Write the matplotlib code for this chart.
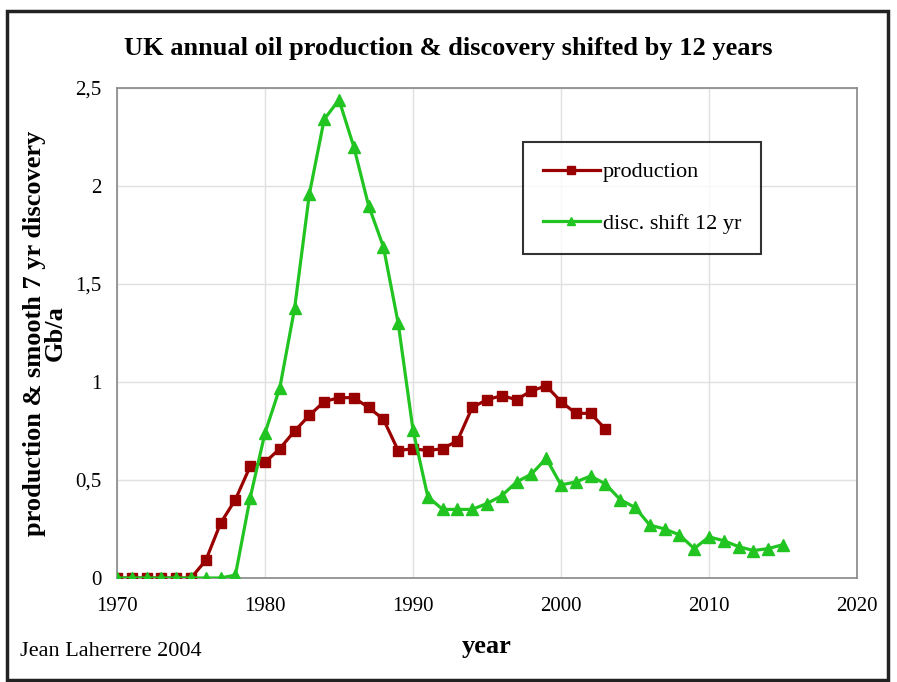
import numpy as np
import matplotlib
matplotlib.use("Agg")
import matplotlib.pyplot as plt
from matplotlib.patches import Rectangle
from matplotlib.ticker import FuncFormatter

plt.rcParams['font.family'] = ['Liberation Serif', 'DejaVu Serif']

# production Gb/a, 1970-2003
prod_years = list(range(1970, 2004))
production = [0, 0, 0, 0, 0, 0, 0.09, 0.28, 0.40, 0.57, 0.59, 0.66, 0.75, 0.83,
              0.90, 0.92, 0.92, 0.87, 0.81, 0.65, 0.66, 0.65, 0.66, 0.70, 0.87,
              0.91, 0.93, 0.91, 0.955, 0.98, 0.90, 0.84, 0.84, 0.76]

# discovery (smoothed 7 yr) shifted by 12 years, 1970-2015
disc_years = list(range(1970, 2016))
discovery = [0, 0, 0, 0, 0, 0, 0, 0, 0.015, 0.41, 0.74, 0.97, 1.376, 1.96,
             2.34, 2.44, 2.20, 1.90, 1.69, 1.30, 0.755, 0.415, 0.35, 0.35, 0.35,
             0.38, 0.42, 0.49, 0.53, 0.61, 0.475, 0.49, 0.52, 0.48, 0.40, 0.36,
             0.27, 0.25, 0.22, 0.15, 0.21, 0.19, 0.16, 0.14, 0.15, 0.17]

fig = plt.figure(figsize=(8.97, 6.82), dpi=100)
ax = fig.add_axes([117/897, 1-578/682, 740/897, 490/682])

ax.plot(prod_years, production, color='#990000', lw=2.3, marker='s', ms=7,
        label='production', zorder=3)
ax.plot(disc_years, discovery, color='#22c422', lw=2.3, marker='^', ms=8,
        label='disc. shift 12 yr', zorder=4)

ax.set_xlim(1970, 2020)
ax.set_ylim(0, 2.5)
ax.set_xticks(range(1970, 2021, 10))
ax.set_yticks([0, 0.5, 1, 1.5, 2, 2.5])
ax.yaxis.set_major_formatter(FuncFormatter(lambda v, p: ('%g' % v).replace('.', ',')))
ax.tick_params(length=0, labelsize=15, pad=14)
ax.tick_params(axis='y', pad=11)
ax.grid(True, color='#e0e0e0', lw=1)
ax.set_axisbelow(True)
for s in ax.spines.values():
    s.set_color('#888888')
    s.set_linewidth(1.2)

fig.text(0.5, 1-48/682, 'UK annual oil production & discovery shifted by 12 years',
         fontsize=19, fontweight='bold', ha='center', va='center')
ax.set_ylabel('production & smooth 7 yr discovery\nGb/a', fontsize=19,
              fontweight='bold', linespacing=0.9)
ax.yaxis.set_label_coords((67-117)/740, 0.5)
ax.set_xlabel('year', fontsize=19, fontweight='bold', labelpad=13)

leg = ax.legend(loc='upper left', bbox_to_anchor=(0.548, 0.89), fontsize=16,
                frameon=True, fancybox=False, borderpad=0.9, labelspacing=1.4,
                handlelength=2.6, handletextpad=0.1, borderaxespad=0,
                markerscale=0.75)
leg.get_frame().set_edgecolor('black')
leg.get_frame().set_linewidth(1.5)

fig.text(20/897, 1-652/682, 'Jean Laherrere 2004', fontsize=16, va='center')

fig.patches.append(Rectangle((7/897, 2/682), 881/897, 669/682, transform=fig.transFigure,
                             fill=False, edgecolor='#222222', lw=2.5))

fig.savefig('out.png', dpi=100)
